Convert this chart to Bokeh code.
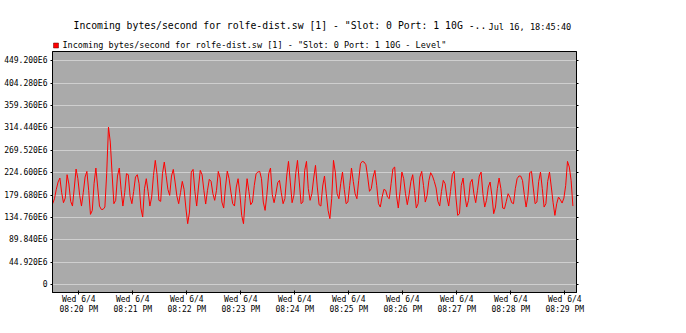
import datetime as dt
from bokeh.plotting import figure
from bokeh.layouts import column
from bokeh.models import FixedTicker, Range1d, LinearAxis, ColumnDataSource
from bokeh.core.properties import value
from bokeh.embed import file_html
from bokeh.resources import INLINE

# ---------------- data ----------------
title_text = 'Incoming bytes/second for rolfe-dist.sw [1] - "Slot: 0 Port: 1 10G -..'
title_date = 'Jul 16, 18:45:40'
legend_text = 'Incoming bytes/second for rolfe-dist.sw [1] - "Slot: 0 Port: 1 10G - Level"'
series_color = "#ff0000"

x_tick_times = ["2025-06-04 20:20", "2025-06-04 20:21", "2025-06-04 20:22",
                "2025-06-04 20:23", "2025-06-04 20:24", "2025-06-04 20:25",
                "2025-06-04 20:26", "2025-06-04 20:27", "2025-06-04 20:28",
                "2025-06-04 20:29"]
x_tick_labels = ["Wed 6/4\n08:20 PM", "Wed 6/4\n08:21 PM", "Wed 6/4\n08:22 PM",
                 "Wed 6/4\n08:23 PM", "Wed 6/4\n08:24 PM", "Wed 6/4\n08:25 PM",
                 "Wed 6/4\n08:26 PM", "Wed 6/4\n08:27 PM", "Wed 6/4\n08:28 PM",
                 "Wed 6/4\n08:29 PM"]

y_tick_values = [0, 44920000, 89840000, 134760000, 179680000, 224600000,
                 269520000, 314440000, 359360000, 404280000, 449200000]
y_tick_labels = ["0", "44.920E6", "89.840E6", "134.760E6", "179.680E6",
                 "224.600E6", "269.520E6", "314.440E6", "359.360E6",
                 "404.280E6", "449.200E6"]

first_sample_time = "2025-06-04 20:19:31"
sample_step_s = 2
view_start = "2025-06-04 20:19:30.800"
view_end = "2025-06-04 20:29:13"
y_view = (-15.4e6, 467.4e6)

# bytes/second, in units of 1E6
level_e6 = [
    162.5, 172.5, 191.2, 205.9, 213.9, 184.5, 164.5, 173.8, 220.6, 201.9,
    167.2, 157.8, 193.9, 231.9, 212.6, 179.2, 157.8, 184.5, 215.9, 227.2,
    189.2, 141.1, 149.1, 203.2, 233.9, 195.9, 157.8, 151.1, 151.1, 155.8,
    222.6, 316.0, 286.0, 222.6, 162.5, 169.2, 217.9, 233.9, 191.2, 157.8,
    184.5, 222.6, 220.6, 177.2, 162.5, 187.2, 215.9, 220.6, 202.5,
    153.8, 135.8, 192.5, 212.6, 187.2, 157.8, 175.8, 219.2, 249.3, 220.6,
    169.2, 167.2, 222.6, 245.9, 219.2, 191.2, 179.2, 217.9, 231.2, 205.9,
    177.8, 162.5, 184.5, 207.2, 191.2, 153.8, 122.4, 145.8, 225.9, 231.2,
    187.2, 157.8, 195.9, 229.2, 220.6, 189.2, 161.8, 189.2, 211.2, 207.2,
    182.5, 169.2, 189.2, 227.2, 213.9, 165.8, 153.8, 195.9, 227.9,
    212.6, 185.9, 162.5, 157.8, 195.9, 212.6, 182.5, 139.1, 122.4, 172.5,
    212.6, 187.2, 160.5, 165.8, 199.2, 222.6, 225.9, 227.2, 212.6, 165.8,
    149.1, 180.5, 222.6, 233.9, 180.5, 164.5, 182.5, 204.5, 209.2, 184.5,
    162.5, 172.5, 217.9, 247.3, 205.9, 164.5, 179.2, 222.6, 249.3, 205.9,
    162.5, 165.8, 229.2, 247.3, 192.5, 169.2, 182.5, 213.9, 239.3,
    195.9, 160.5, 157.8, 197.9, 217.9, 182.5, 149.1, 132.5, 172.5, 249.3,
    225.9, 182.5, 172.5, 202.5, 225.9, 191.2, 162.5, 165.8, 199.2, 233.9,
    207.2, 182.5, 172.5, 209.2, 242.6, 247.3, 245.9, 240.6, 215.9, 187.2,
    192.5, 215.9, 229.2, 199.2, 162.5, 155.8, 175.8, 191.2, 189.2, 175.8,
    172.5, 202.5, 232.6, 235.9, 179.2, 153.8, 187.2, 225.9, 212.6,
    182.5, 160.5, 180.5, 207.2, 220.6, 189.2, 153.8, 162.5, 215.9, 227.2,
    199.2, 165.8, 179.2, 209.2, 224.6, 217.9, 207.2, 193.9, 167.2, 157.8,
    187.2, 209.2, 202.5, 175.8, 157.8, 187.2, 220.6, 227.2, 175.8, 139.1,
    142.5, 199.2, 213.9, 177.8, 155.8, 169.2, 204.5, 211.2, 182.5, 164.5,
    189.2, 217.9, 225.9, 182.5, 155.8, 169.2, 195.9, 205.9, 179.2,
    142.5, 155.8, 192.5, 213.9, 192.5, 153.8, 152.5, 167.2, 182.5, 175.8,
    164.5, 162.5, 192.5, 212.6, 217.9, 217.9, 209.2, 180.5, 155.8, 177.8,
    224.6, 227.2, 193.9, 162.5, 165.8, 207.2, 225.9, 192.5, 155.8, 162.5,
    207.2, 225.9, 195.9, 164.5, 139.1, 162.5, 175.8, 170.5, 163.8, 173.8,
    199.2, 247.3, 235.9, 209.2, 157.8,
]

# ---------------- helpers ----------------
EPOCH = dt.datetime(1970, 1, 1)


def to_ms(s):
    return int(round((dt.datetime.fromisoformat(s) - EPOCH).total_seconds() * 1000.0))


t0 = to_ms(first_sample_time)
times = [t0 + i * sample_step_s * 1000 for i in range(len(level_e6))]
levels = [v * 1e6 for v in level_e6]
source = ColumnDataSource(dict(t=times, v=levels))

x_ticks = [to_ms(s) for s in x_tick_times]

MONO = "DejaVu Sans Mono"
LEFT, RIGHT = 52, 110
HEAD_H = 50
FRAME_W, FRAME_H = 524, 241

# ---------------- header (title + legend) ----------------
# the header frame lines up with the chart frame; its x coordinates are page pixels
head = figure(frame_width=FRAME_W, frame_height=HEAD_H,
              output_backend="svg", toolbar_location=None,
              x_range=Range1d(LEFT, LEFT + FRAME_W), y_range=Range1d(0, HEAD_H),
              x_axis_location=None, y_axis_location=None,
              min_border_left=LEFT, min_border_right=RIGHT,
              min_border_top=0, min_border_bottom=0,
              outline_line_color=None)
head.grid.visible = False
head.background_fill_color = "white"
head.border_fill_color = "white"

head.text(x=[73], y=[HEAD_H - 25], text=[title_text],
          text_font=value(MONO), text_font_size="9.8px",
          text_baseline="middle", text_align="left", text_color="black")
head.text(x=[488], y=[HEAD_H - 26], text=[title_date],
          text_font=value(MONO), text_font_size="8.6px",
          text_baseline="middle", text_align="left", text_color="black")
# legend row
head.rect(x=[55.5], y=[HEAD_H - 45], width=5, height=5,
          fill_color=series_color, line_color="#600000", line_width=0.5)
head.text(x=[62], y=[HEAD_H - 44.5], text=[legend_text],
          text_font=value(MONO), text_font_size="8.5px",
          text_baseline="middle", text_align="left", text_color="black")

# ---------------- main chart ----------------
p = figure(frame_width=FRAME_W, frame_height=FRAME_H,
           output_backend="svg", toolbar_location=None,
           x_axis_type="datetime",
           x_range=Range1d(to_ms(view_start), to_ms(view_end)),
           y_range=Range1d(*y_view),
           min_border_left=LEFT, min_border_right=RIGHT,
           min_border_top=1, min_border_bottom=41)

p.background_fill_color = "#aaaaaa"
p.border_fill_color = "white"
p.outline_line_color = "black"
p.outline_line_width = 1

# x axis
xa = p.xaxis[0]
xa.ticker = FixedTicker(ticks=x_ticks)
xa.major_label_overrides = {t: lab for t, lab in zip(x_ticks, x_tick_labels)}
xa.major_label_text_font = MONO
xa.major_label_text_font_size = "8px"
xa.major_label_text_color = "black"
xa.major_tick_in = 2
xa.major_tick_out = 2
xa.minor_tick_line_color = None
xa.axis_line_color = "black"
xa.major_tick_line_color = "black"
xa.major_label_standoff = 0

# y axis (left)
ya = p.yaxis[0]
ya.ticker = FixedTicker(ticks=y_tick_values)
ya.major_label_overrides = {t: lab for t, lab in zip(y_tick_values, y_tick_labels)}
ya.major_label_text_font = MONO
ya.major_label_text_font_size = "8px"
ya.major_label_text_color = "black"
ya.major_tick_in = 0
ya.major_tick_out = 2
ya.minor_tick_line_color = None
ya.axis_line_color = "black"
ya.major_label_standoff = 3

# right axis with ticks only
ra = LinearAxis(ticker=FixedTicker(ticks=y_tick_values),
                major_label_text_color=None,
                major_tick_in=0, major_tick_out=2,
                minor_tick_line_color=None, axis_line_color="black")
p.add_layout(ra, "right")

p.xgrid.grid_line_color = None
p.ygrid.ticker = FixedTicker(ticks=y_tick_values)
p.ygrid.grid_line_color = "#cfcfcf"
p.ygrid.grid_line_width = 1

# data line
p.line(x="t", y="v", source=source, line_color=series_color, line_width=1)

layout = column(head, p, spacing=0)
open("out.html", "w").write(file_html(layout, INLINE))
